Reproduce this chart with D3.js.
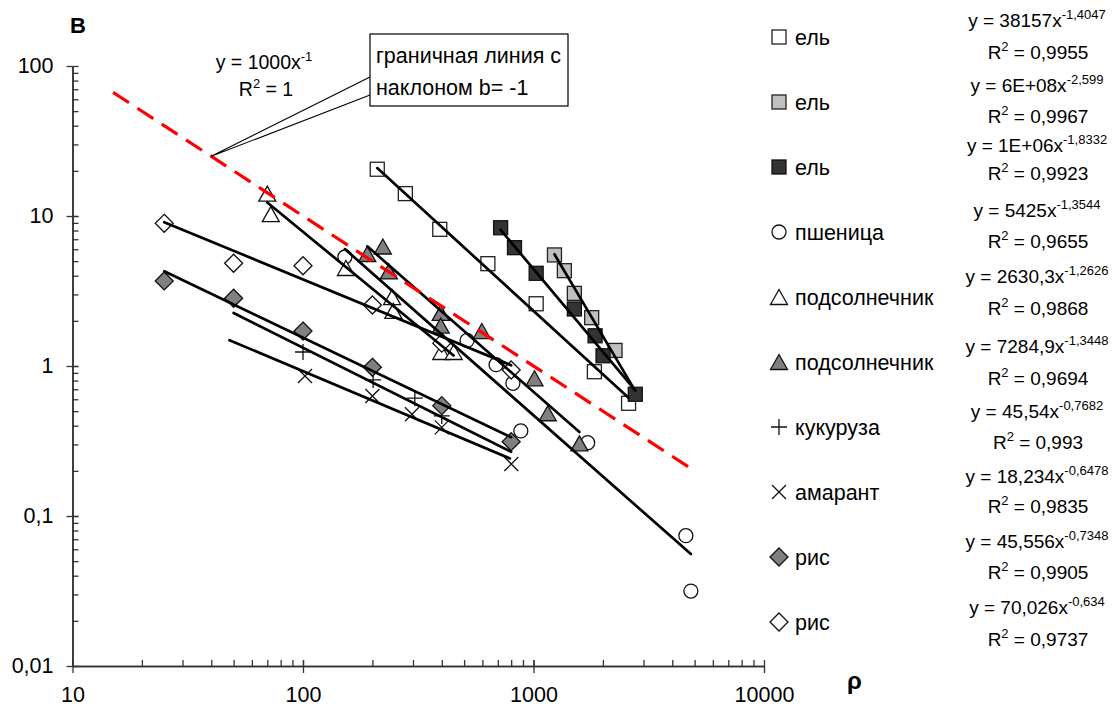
<!DOCTYPE html>
<html><head><meta charset="utf-8">
<script src="https://cdn.jsdelivr.net/npm/d3@7/dist/d3.min.js"></script>
<style>
body{margin:0;background:#fff}
text{font-family:"Liberation Sans",Arial,Helvetica,sans-serif;white-space:pre;fill:#000}
</style>
</head><body>
<svg id="chart" width="1116" height="709"></svg>
<script>
// ---------- DATA ----------
const categories = ["ель","ель","ель","пшеница","подсолнечник","подсолнечник","кукуруза","амарант","рис","рис"];

const elOpenX = [210, 278, 392, 634, 1027, 1837, 2585];
const elOpenY = [20.5, 14.1, 8.15, 4.81, 2.60, 0.916, 0.564];

const elGrayX = [1233, 1361, 1504, 1788, 2258];
const elGrayY = [5.50, 4.32, 3.05, 2.10, 1.27];

const elDarkX = [720, 827, 1027, 1504, 1850, 2003, 2764];
const elDarkY = [8.35, 6.15, 4.15, 2.40, 1.59, 1.17, 0.648];

const wheatX = [152, 515, 688, 814, 881, 1718, 4581, 4817];
const wheatY = [5.33, 1.48, 1.02, 0.767, 0.369, 0.308, 0.0739, 0.0316];

const sunOpenX = [70, 72.5, 153.5, 243.6, 246.5, 398, 450.6];
const sunOpenY = [14.1, 10.3, 4.50, 2.88, 2.33, 1.24, 1.24];

const sunGrayX = [190, 222, 235.6, 395.7, 395.7, 597, 1010, 1153, 1582];
const sunGrayY = [5.58, 6.26, 4.27, 2.26, 1.86, 1.71, 0.828, 0.484, 0.305];

const cornX = [100, 201.5, 305.6, 400];
const cornY = [1.24, 0.807, 0.61, 0.465];

const amaranthX = [102, 200, 297, 400, 801];
const amaranthY = [0.858, 0.631, 0.477, 0.39, 0.222];

const riceGrayX = [25, 50, 100, 200, 400, 800];
const riceGrayY = [3.69, 2.83, 1.71, 0.98, 0.544, 0.313];

const riceOpenX = [25, 50, 100, 200, 400, 800];
const riceOpenY = [8.94, 4.84, 4.66, 2.55, 1.42, 0.94];

// power trendlines y = a * x^b, drawn over [fitFrom, fitTo]
const fitA = [38157, 6e8, 1.4e6, 5425, 2630.3, 7284.9, 45.54, 18.234, 45.556, 70.026];
const fitB = [-1.4047, -2.599, -1.8332, -1.3544, -1.2626, -1.3448, -0.7682, -0.6478, -0.7348, -0.634];
const fitFrom = [210, 1233, 720, 152, 70, 190, 50, 48, 25, 25];
const fitTo   = [2585, 2750, 2764, 4817, 450, 1582, 800, 790, 800, 800];

const eqBase = ["y = 38157x","y = 6E+08x","y = 1E+06x","y = 5425x","y = 2630,3x","y = 7284,9x","y = 45,54x","y = 18,234x","y = 45,556x","y = 70,026x"];
const eqExp  = ["-1,4047","-2,599","-1,8332","-1,3544","-1,2626","-1,3448","-0,7682","-0,6478","-0,7348","-0,634"];
const r2Vals = ["0,9955","0,9967","0,9923","0,9655","0,9868","0,9694","0,993","0,9835","0,9905","0,9737"];

// boundary line y = 1000 x^-1
const boundA = 1000, boundB = -1;
const boundFrom = 15, boundTo = 5000;

const xTickValues = [10, 100, 1000, 10000];
const xTickLabels = ["10", "100", "1000", "10000"];
const yTickValues = [0.01, 0.1, 1, 10, 100];
const yTickLabels = ["0,01", "0,1", "1", "10", "100"];

// ---------- STYLE / LAYOUT ----------
const markerTypes = ["square","square","square","circle","triangle","triangle","plus","cross","diamond","diamond"];
const markerFills = ["#ffffff","#c0c0c0","#333333","#ffffff","#ffffff","#808080","none","none","#808080","#ffffff"];

const series = [
  [elOpenX, elOpenY],[elGrayX, elGrayY],[elDarkX, elDarkY],[wheatX, wheatY],
  [sunOpenX, sunOpenY],[sunGrayX, sunGrayY],[cornX, cornY],[amaranthX, amaranthY],
  [riceGrayX, riceGrayY],[riceOpenX, riceOpenY]
].map((s, i) => ({
  name: categories[i], type: markerTypes[i], fill: markerFills[i],
  pts: s[0].map((x, j) => ({x, y: s[1][j]})),
  a: fitA[i], b: fitB[i], from: fitFrom[i], to: fitTo[i]
}));

const svg = d3.select("#chart");
const x = d3.scaleLog().domain([10, 10000]).range([72.5, 764]);
const y = d3.scaleLog().domain([0.01, 100]).range([666, 66]);

const axisColor = "#333";
const FONT = '"Liberation Sans",Arial,sans-serif';

// ---------- AXES ----------
function minorTicks(domain) {
  const out = [];
  for (let e = Math.log10(domain[0]); e < Math.log10(domain[1]); e++) {
    for (let k = 1; k <= 10; k++) out.push(k * Math.pow(10, e));
  }
  return out;
}
const yAll = minorTicks([0.01, 100]);
const xAll = minorTicks([10, 10000]);

const gyL = svg.append("g").attr("transform", `translate(${x(10)},0)`)
  .call(d3.axisLeft(y).tickValues(yTickValues).tickSize(6).tickSizeOuter(0).tickPadding(13)
    .tickFormat((d, i) => yTickLabels[i]));
const gyR = svg.append("g").attr("transform", `translate(${x(10)},0)`)
  .call(d3.axisRight(y).tickValues(yAll).tickSize(6).tickSizeOuter(0).tickFormat(""));
const gxB = svg.append("g").attr("transform", `translate(0,${y(0.01)})`)
  .call(d3.axisBottom(x).tickValues(xTickValues).tickSize(7).tickSizeOuter(0).tickPadding(14)
    .tickFormat((d, i) => xTickLabels[i]));
const gxT = svg.append("g").attr("transform", `translate(0,${y(0.01)})`)
  .call(d3.axisTop(x).tickValues(xAll).tickSize(6).tickSizeOuter(0).tickFormat(""));

[gyL, gyR, gxB, gxT].forEach(g => {
  g.selectAll("path.domain").attr("stroke", axisColor).attr("stroke-width", 1.5);
  g.selectAll(".tick line").attr("stroke", axisColor).attr("stroke-width", 1.3);
  g.selectAll(".tick text").attr("font-size", 21.5).attr("font-family", FONT).attr("fill", "#000");
});

// ---------- MARKERS ----------
function drawMarker(g, type, cx, cy, fill) {
  const sw = 1.3;
  if (type === "square") {
    const s = 14;
    g.append("rect").attr("x", cx - s/2).attr("y", cy - s/2).attr("width", s).attr("height", s)
      .attr("fill", fill).attr("stroke", fill === "#333333" ? "#111" : "#222").attr("stroke-width", sw);
  } else if (type === "circle") {
    g.append("circle").attr("cx", cx).attr("cy", cy).attr("r", 7)
      .attr("fill", fill).attr("stroke", "#111").attr("stroke-width", sw);
  } else if (type === "triangle") {
    const w = 17, h = 15;
    g.append("path").attr("d", `M${cx},${cy - h/2}L${cx + w/2},${cy + h/2}L${cx - w/2},${cy + h/2}Z`)
      .attr("fill", fill).attr("stroke", "#111").attr("stroke-width", sw);
  } else if (type === "diamond") {
    const r = 9;
    g.append("path").attr("d", `M${cx},${cy - r}L${cx + r},${cy}L${cx},${cy + r}L${cx - r},${cy}Z`)
      .attr("fill", fill).attr("stroke", "#111").attr("stroke-width", sw);
  } else if (type === "plus") {
    const r = 8;
    g.append("path").attr("d", `M${cx - r},${cy}H${cx + r}M${cx},${cy - r}V${cy + r}`)
      .attr("stroke", "#111").attr("stroke-width", sw).attr("fill", "none");
  } else if (type === "cross") {
    const r = 7;
    g.append("path").attr("d", `M${cx - r},${cy - r}L${cx + r},${cy + r}M${cx - r},${cy + r}L${cx + r},${cy - r}`)
      .attr("stroke", "#111").attr("stroke-width", sw).attr("fill", "none");
  }
}

const gm = svg.append("g");
series.forEach(s => s.pts.forEach(p => drawMarker(gm, s.type, x(p.x), y(p.y), s.fill)));

// ---------- TRENDLINES ----------
const line = d3.line().x(d => x(d[0])).y(d => y(d[1]));
const gt = svg.append("g");
series.forEach(s => {
  const ends = [s.from, s.to].map(v => [v, s.a * Math.pow(v, s.b)]);
  gt.append("path").attr("d", line(ends)).attr("fill", "none")
    .attr("stroke", "#000").attr("stroke-width", 2.7).attr("stroke-linecap", "round");
});

// boundary red dashed line
const bEnds = [boundFrom, boundTo].map(v => [v, boundA * Math.pow(v, boundB)]);
svg.append("path").attr("d", line(bEnds)).attr("fill", "none")
  .attr("stroke", "#ff0000").attr("stroke-width", 3.2).attr("stroke-dasharray", "19,10");

// ---------- ANNOTATIONS ----------
svg.append("text").attr("x", 70).attr("y", 33).attr("font-size", 22).attr("font-weight", "bold").text("В");

const be = svg.append("text").attr("x", 264).attr("y", 69).attr("text-anchor", "middle").attr("font-size", 19.5);
be.append("tspan").text("y = 1000x");
be.append("tspan").attr("dy", -8).attr("font-size", 13).text("-1");
const br = svg.append("text").attr("x", 266).attr("y", 96).attr("text-anchor", "middle").attr("font-size", 19.5);
br.append("tspan").text("R");
br.append("tspan").attr("dy", -8).attr("font-size", 13).text("2");
br.append("tspan").attr("dy", 8).text(" = 1");

// callout
const tip = [x(40), y(25)];
svg.append("path")
  .attr("d", `M370,77L${tip[0]},${tip[1]}L370,95`)
  .attr("fill", "none").attr("stroke", "#000").attr("stroke-width", 1.1);
svg.append("rect").attr("x", 370).attr("y", 34).attr("width", 198).attr("height", 72)
  .attr("fill", "#fff").attr("stroke", "#000").attr("stroke-width", 1.2);
svg.append("text").attr("x", 376).attr("y", 63).attr("font-size", 21.5).text("граничная линия с");
svg.append("text").attr("x", 376).attr("y", 95).attr("font-size", 21.5).text("наклоном b= -1");

// axis title
svg.append("text").attr("x", 847).attr("y", 689).attr("font-size", 24).attr("font-weight", "bold").text("ρ");

// ---------- LEGEND ----------
const lg = svg.append("g");
series.forEach((s, i) => {
  const cy = 37 + 65 * i;
  drawMarker(lg, s.type, 779, cy, s.fill);
  lg.append("text").attr("x", 795).attr("y", cy + 7.5).attr("font-size", 21.5).text(s.name);
});

// ---------- EQUATIONS ----------
const eqY = [20, 85, 145, 210, 276, 346, 411, 476, 541, 607];
const r2Y = [52, 116, 173, 241, 308, 378, 442, 506, 572, 639];
series.forEach((s, i) => {
  const t = svg.append("text").attr("x", 1037).attr("y", eqY[i] + 7).attr("text-anchor", "middle").attr("font-size", 19);
  t.append("tspan").text(eqBase[i]);
  t.append("tspan").attr("dy", -8).attr("font-size", 13).text(eqExp[i]);
  const r = svg.append("text").attr("x", 1038).attr("y", r2Y[i] + 7).attr("text-anchor", "middle").attr("font-size", 19);
  r.append("tspan").text("R");
  r.append("tspan").attr("dy", -8).attr("font-size", 13).text("2");
  r.append("tspan").attr("dy", 8).text(" = " + r2Vals[i]);
});
</script>
</body></html>
